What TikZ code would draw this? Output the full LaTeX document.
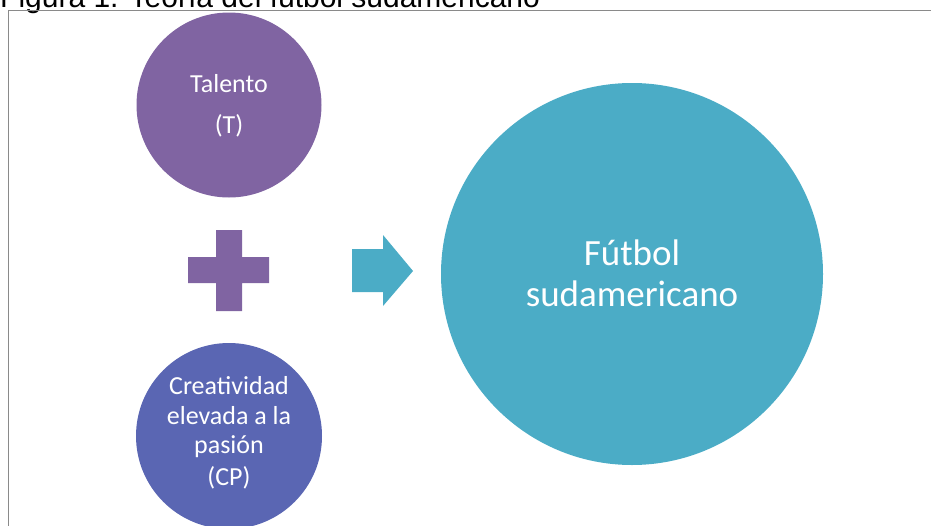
\documentclass[tikz,border=0pt]{standalone}
\usepackage{fontspec}
\setmainfont{Carlito}
\newfontfamily\capfont{Liberation Sans}
\definecolor{purp}{HTML}{8064A2}
\definecolor{blu}{HTML}{5A66B3}
\definecolor{teal}{HTML}{4BACC6}
\definecolor{frame}{HTML}{8A8A8A}
\begin{document}
\begin{tikzpicture}[x=1pt,y=-1pt,
  disc/.style={circle,inner sep=0pt,draw=none,minimum size=#1},
  lbl/.style={anchor=base,inner sep=0pt,text=white,font=\fontsize{26}{30}\selectfont},
  biglbl/.style={anchor=base,inner sep=0pt,text=white,font=\fontsize{37}{41}\selectfont}]
\useasboundingbox (0,0) rectangle (931,525);
% caption (cut off at top)
\node[anchor=base west,inner sep=0pt,font=\capfont\fontsize{30}{34}\selectfont] (cap) at (0,7) {Figura 1. Teoría del fútbol sudamericano};
% frame
\draw[frame,line width=1.6pt] (8.5,540) -- (8.5,10.5) -- (945,10.5);
% circles
\node[disc=185pt,fill=purp] (t) at (229,105) {};
\node[disc=186pt,fill=blu] (cp) at (229,436) {};
\node[disc=382pt,fill=teal] (f) at (632,274) {};
% texts
\node[lbl] (t1) at (229,92) {Talento};
\node[lbl] (t2) at (229,133) {(T)};
\node[lbl] (c1) at (229,394) {Creatividad};
\node[lbl] (c2) at (229,424) {elevada a la};
\node[lbl] (c3) at (229,453) {pasión};
\node[lbl] (c4) at (229,485) {(CP)};
\node[biglbl] (f1) at (632,265) {Fútbol};
\node[biglbl] (f2) at (632,306) {sudamericano};
% plus
\fill[purp] (216,230) -- (242,230) -- (242,257) -- (269,257) -- (269,283) -- (242,283)
  -- (242,311) -- (216,311) -- (216,283) -- (188,283) -- (188,257) -- (216,257) -- cycle;
% arrow
\fill[teal] (352,249) -- (383,249) -- (383,235) -- (413,271) -- (383,306) -- (383,292) -- (352,292) -- cycle;
\end{tikzpicture}
\end{document}
